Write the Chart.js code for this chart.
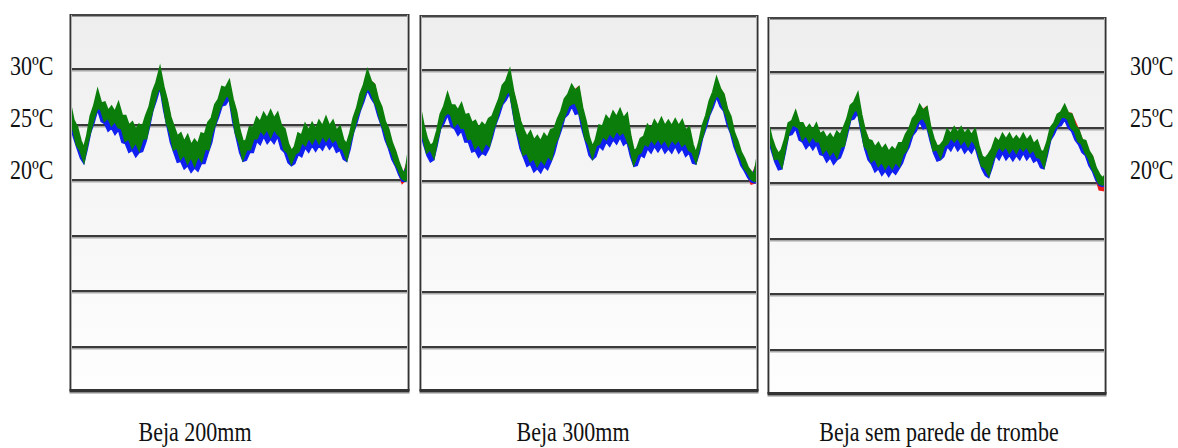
<!DOCTYPE html>
<html>
<head>
<meta charset="utf-8">
<title>Beja - temperaturas</title>
<script src="https://cdn.jsdelivr.net/npm/chart.js@4.4.1/dist/chart.umd.min.js"></script>
<style>
  html, body { margin: 0; padding: 0; background: #fff; }
  #wrap { position: relative; width: 1178px; height: 448px; overflow: hidden; }
  .panel { position: absolute; }
  .lbl {
    position: absolute;
    font-family: "Liberation Serif", "Times New Roman", serif;
    font-size: 22px;
    color: #111;
    white-space: nowrap;
    line-height: 22px;
    transform: scaleY(1.2);
  }
</style>
</head>
<body>
<div id="wrap">
  <div class="panel" id="p1"><canvas id="c1"></canvas></div>
  <div class="panel" id="p2"><canvas id="c2"></canvas></div>
  <div class="panel" id="p3"><canvas id="c3"></canvas></div>
</div>
<script>
// axis
const yMin = 1.1;
const yMax = 34.9;
const gridValues = [30, 25, 20, 15, 10, 5];
const tempLabels = ['30ºC', '25ºC', '20ºC'];
const panelTitles = ['Beja 200mm', 'Beja 300mm', 'Beja sem parede de trombe'];

// the series are very noisy, so each one is kept as an upper and a lower envelope (ºC),
// sampled evenly over the period; the visible edges (green, lower blue) are sampled finer
// Beja 200mm
const p1GreenHi = [26.9,25.4,24.8,23.6,22.8,24.0,25.8,26.7,28.0,26.9, 27.0,26.2,26.6,26.1,26.9,25.8,25.8,24.9,25.2,24.5,
  25.0,24.8,25.8,26.6,28.0,28.8,30.0,28.4,27.2,25.7, 24.8,23.9,24.2,23.4,24.0,23.1,23.6,23.2,24.2,24.1,
  25.2,25.6,26.8,27.3,28.4,28.3,28.9,27.3,26.2,24.5, 23.4,23.6,24.8,24.7,25.6,25.2,26.0,25.5,26.2,25.5,
  26.0,24.9,24.6,23.3,22.6,23.0,24.2,24.0,25.0,24.4, 25.1,24.5,25.3,24.8,25.6,24.8,25.3,24.4,24.8,23.6,
  23.2,24.2,25.6,26.5,27.8,28.6,29.8,28.9,28.6,27.3, 26.6,25.3,24.6,23.4,22.6,21.6,20.8,20.6,22.8];
const p1GreenLo = [25.3,24.6,23.2,22.7,21.8,23.4,24.6,25.8,26.6,26.4, 25.4,25.7,25.0,25.4,24.8,24.7,23.6,23.8,23.0,23.5,
  22.8,23.8,23.8,25.4,26.6,27.8,28.6,27.1,25.2,24.3, 22.8,23.0,22.0,22.4,21.6,22.2,21.4,22.3,21.8,22.9,
  22.8,24.3,25.2,26.3,27.0,27.6,27.6,26.1,24.2,23.4, 22.0,22.8,22.8,23.8,23.8,24.6,24.2,24.7,24.0,24.7,
  24.2,23.9,22.8,22.5,21.6,22.4,22.6,23.5,23.2,23.9, 23.4,24.0,23.4,24.1,23.6,24.1,23.5,23.8,23.0,22.8,
  22.0,23.5,24.6,25.8,26.6,27.7,28.4,28.0,27.2,26.4, 25.2,24.4,23.2,22.6,21.6,21.0,20.2,20.0,20.4];
const p1BlueHi = [26.1,24.0,22.1,25.0,27.3,26.2,25.8,26.1,25.0,24.4, 24.2,25.0,27.3,29.4,26.4,24.0,23.4,23.2,22.8,23.4,
  24.4,26.0,27.7,28.2,25.4,22.7,24.0,24.8,25.2,25.4, 25.2,23.8,21.9,23.4,24.2,24.3,24.5,24.8,24.5,24.0,
  22.5,24.8,27.1,29.2,27.9,25.8,23.8,21.8,20.2,22.0];
const p1BlueLo = [25.0,23.85,22.9,22.0,21.5,22.8,24.3,25.2,26.3,25.3, 25.1,24.4,24.7,24.1,24.5,23.4,23.3,22.5,22.7,22.1,
  22.5,22.6,23.5,24.8,26.3,27.2,28.3,26.4,24.9,23.4, 22.5,21.6,21.7,21.0,21.3,20.7,21.1,20.8,21.5,21.5,
  22.5,23.4,24.9,25.7,26.7,26.8,27.3,25.3,23.9,22.5, 21.7,21.8,22.5,22.5,23.5,23.2,23.9,23.3,23.7,23.3,
  23.9,22.8,22.5,21.6,21.3,21.5,22.3,22.1,22.9,22.5, 23.1,22.6,23.1,22.7,23.3,22.8,23.2,22.5,22.7,21.9,
  21.7,22.8,24.3,25.2,26.3,27.1,28.1,27.4,26.9,25.8, 24.9,23.7,22.9,21.9,21.3,20.5,19.9,19.9,20.1];
const p1RedHi = [26.4,24.3,22.3,25.2,27.4,26.4,26.0,26.3,25.2,24.6, 24.4,25.2,27.4,29.4,27.3,24.2,23.6,23.4,23.0,23.6,
  24.6,26.2,27.8,28.3,26.3,22.8,24.2,25.0,25.4,25.6, 25.4,24.0,22.0,23.6,24.4,24.5,24.7,25.0,24.7,24.2,
  22.6,25.0,27.2,29.2,28.7,26.0,24.0,22.7,20.2,22.2];
const p1RedLo = [25.4,23.3,21.9,24.7,26.7,25.5,25.1,24.9,23.7,23.1, 22.9,23.9,26.7,28.7,25.3,22.9,22.1,21.7,21.5,21.9,
  22.9,25.3,27.1,27.7,24.3,22.1,22.9,23.9,24.3,24.1, 24.3,22.9,21.7,22.7,23.3,23.5,23.5,23.7,23.6,23.1,
  22.1,24.7,26.7,28.5,27.3,25.3,23.3,21.7,19.7,20.3];

// Beja 300mm
const p2GreenHi = [26.6,25.0,23.8,23.1,23.4,24.5,26.0,26.7,27.8,26.8, 26.8,26.3,26.9,25.9,26.0,25.2,25.4,24.7,25.2,24.9,
  25.6,25.8,26.6,27.4,28.6,29.0,29.9,28.1,26.8,25.4, 24.6,23.9,24.4,23.6,24.0,23.5,24.2,23.8,24.6,24.7,
  25.6,26.3,27.4,27.8,28.6,28.1,28.4,26.6,25.4,23.9, 23.0,23.7,25.0,24.9,25.8,25.4,26.2,25.7,26.4,25.6,
  26.0,24.0,22.6,22.9,23.8,24.0,25.0,24.6,25.4,24.9, 25.6,24.9,25.4,24.9,25.5,24.9,25.4,24.5,24.8,23.3,
  22.4,23.5,25.0,25.9,27.2,28.0,29.2,28.3,27.8,26.5, 25.8,24.4,23.6,22.6,22.0,21.2,20.8,20.5,22.4];
const p2GreenLo = [24.8,23.9,22.6,22.9,22.2,23.8,25.0,25.9,26.2,26.0, 25.0,25.4,24.8,24.8,23.8,23.9,23.0,23.4,22.8,23.5,
  23.2,24.5,25.4,26.5,27.2,27.9,28.2,26.6,24.6,23.7, 22.4,22.6,21.8,22.1,21.4,22.0,21.6,22.3,22.0,23.3,
  24.0,25.2,26.0,26.8,27.0,27.1,26.4,25.4,23.8,23.3, 22.2,23.2,23.4,24.1,23.8,24.4,24.0,24.6,24.2,24.5,
  23.8,23.0,21.6,22.4,22.6,23.4,23.2,23.8,23.4,23.9, 23.4,23.8,23.2,23.8,23.4,23.8,23.2,23.5,22.8,22.6,
  21.8,23.2,24.2,25.4,26.2,27.2,27.8,27.5,26.6,25.8, 24.6,23.8,22.6,22.1,21.2,20.8,20.2,20.0,20.2];
const p2BlueHi = [25.8,23.0,22.6,25.2,27.1,26.0,26.1,25.2,24.6,24.4, 24.8,25.8,27.9,29.3,26.0,23.8,23.6,23.2,23.4,23.8,
  24.8,26.6,27.9,27.6,24.6,22.4,24.2,25.0,25.4,25.6, 25.2,21.9,23.0,24.2,24.6,24.8,24.6,24.7,24.6,24.0,
  21.8,24.2,26.5,28.6,27.0,25.0,22.8,21.3,20.2,21.8];
const p2BlueLo = [24.5,23.3,22.3,21.7,21.9,23.2,24.7,25.2,25.9,24.9, 24.7,24.1,24.5,23.5,23.5,22.6,22.7,22.1,22.5,22.3,
  22.9,23.9,25.1,25.9,26.9,27.3,27.9,26.0,24.3,22.9, 22.1,21.3,21.5,20.8,21.1,20.7,21.3,21.0,21.7,22.5,
  23.7,24.6,25.7,26.0,26.7,26.0,26.1,24.6,23.5,22.3, 21.9,22.2,23.1,22.8,23.5,23.1,23.7,23.3,23.9,23.2,
  23.5,22.2,21.3,21.4,22.3,22.1,22.9,22.5,23.1,22.6, 23.1,22.5,22.9,22.5,23.1,22.5,22.9,22.2,22.5,21.6,
  21.5,22.5,23.9,24.8,25.9,26.6,27.5,26.7,26.3,25.1, 24.3,23.1,22.3,21.4,20.9,20.3,19.9,19.8,19.9];
const p2RedHi = [26.0,23.2,22.8,25.4,27.2,26.2,26.3,25.4,24.8,24.6, 25.0,26.0,28.0,29.4,26.9,24.0,23.8,23.4,23.6,24.0,
  25.0,26.8,28.0,28.5,24.8,22.4,24.4,25.2,25.6,25.8, 25.4,22.0,23.2,24.4,24.8,25.0,24.8,24.9,24.8,24.2,
  21.8,24.4,26.6,28.7,27.9,25.2,23.0,21.5,20.3,21.9];
const p2RedLo = [24.9,22.7,22.3,25.1,26.3,25.1,24.9,23.9,23.1,22.9, 23.3,25.5,27.3,28.3,24.7,22.5,21.9,21.5,21.7,22.1,
  24.1,26.1,27.1,26.5,23.9,22.3,23.5,23.9,24.1,24.3, 23.9,21.7,22.7,23.3,23.5,23.5,23.3,23.5,23.3,22.9,
  21.9,24.3,26.3,27.9,26.7,24.7,22.7,21.3,19.7,19.9];

// Beja sem parede de trombe
const p3GreenHi = [25.4,24.1,23.2,22.6,23.0,24.0,25.4,25.6,26.4,25.4, 25.4,24.8,25.2,24.7,25.3,24.4,24.6,24.0,24.4,23.9,
  24.6,24.3,25.0,25.8,27.0,27.3,28.0,26.2,24.8,23.9, 23.8,23.2,23.6,23.0,23.4,22.8,23.2,22.9,23.6,23.6,
  24.4,24.9,25.8,26.2,27.0,26.5,26.8,25.1,24.0,23.3, 23.4,23.8,24.8,24.4,25.0,24.5,25.0,24.4,24.8,24.3,
  24.8,23.4,22.4,22.2,22.6,23.1,24.0,23.7,24.4,23.9, 24.4,23.8,24.2,23.8,24.4,23.8,24.2,23.5,23.8,22.9,
  22.8,23.7,25.0,25.4,26.2,26.4,27.0,26.3,26.2,25.2, 24.8,23.9,23.8,22.9,22.4,21.4,20.8,20.4,20.8];
const p3GreenLo = [24.4,23.5,22.2,22.3,21.6,23.3,24.6,25.3,25.2,25.0, 24.0,24.4,23.8,24.3,23.8,23.8,22.8,23.2,22.6,23.0,
  22.4,23.3,23.4,24.9,26.0,26.6,26.6,25.2,23.4,23.0, 22.0,22.3,21.6,22.0,21.4,21.9,21.4,22.0,21.6,22.6,
  23.0,24.0,24.6,25.4,25.8,25.9,25.4,24.4,23.0,23.1, 22.4,23.4,23.6,24.2,23.8,24.2,23.6,24.0,23.4,24.0,
  23.6,22.8,21.6,21.4,20.8,22.0,22.8,23.4,23.0,23.4, 22.8,23.3,22.8,23.4,23.0,23.4,22.8,23.1,22.4,22.3,
  21.6,23.1,24.2,25.0,25.4,26.0,26.0,25.8,25.0,24.7, 23.8,23.6,22.8,22.3,21.4,20.8,20.0,19.9,20.2];
const p3BlueHi = [24.6,22.4,22.2,24.6,25.6,24.6,24.4,24.5,23.8,23.6, 23.8,24.2,26.3,27.3,24.0,23.0,22.8,22.6,22.4,22.8,
  23.6,25.0,26.3,26.0,23.2,22.6,24.0,24.2,24.2,24.0, 24.0,21.7,21.9,23.2,23.6,23.6,23.4,23.6,23.4,23.0,
  22.0,24.2,25.4,26.3,25.4,24.0,23.0,21.7,20.2,20.2];
const p3BlueLo = [24.1,22.9,21.9,21.2,21.3,22.7,24.3,24.4,24.9,23.9, 23.7,23.1,23.5,23.0,23.5,22.6,22.5,21.9,22.3,21.7,
  22.1,22.3,23.1,24.3,25.7,25.8,26.3,24.6,23.1,22.1, 21.7,21.0,21.3,20.7,21.1,20.6,21.1,20.8,21.3,21.8,
  22.7,23.3,24.3,24.7,25.5,24.9,25.1,23.8,22.7,22.0, 22.1,22.4,23.3,22.9,23.5,22.9,23.3,22.7,23.1,22.7,
  23.3,22.2,21.3,20.7,20.5,21.4,22.5,22.1,22.7,22.1, 22.5,22.0,22.5,22.1,22.7,22.1,22.5,21.9,22.1,21.4,
  21.3,22.5,23.9,24.4,25.1,25.2,25.7,25.0,24.7,23.9, 23.5,22.8,22.5,21.6,21.1,20.3,19.8,19.7,19.9];
const p3RedHi = [24.8,22.6,22.4,24.8,25.8,24.8,24.6,24.7,24.0,23.8, 24.0,24.4,26.4,27.4,24.9,23.2,23.0,22.8,22.6,23.0,
  23.8,25.2,26.4,26.9,23.4,22.8,24.2,24.4,24.4,24.2, 24.2,21.8,22.0,23.4,23.8,23.8,23.6,23.8,23.6,23.2,
  22.2,24.4,25.6,26.4,26.3,24.9,23.2,22.5,20.2,20.2];
const p3RedLo = [24.5,22.3,21.7,24.7,25.3,24.1,23.9,23.9,22.9,22.7, 22.5,23.5,26.1,26.7,23.5,22.1,21.7,21.5,21.5,21.7,
  23.1,24.7,25.9,25.5,23.1,22.5,23.7,23.9,23.7,23.5, 23.7,21.7,20.9,22.9,23.1,22.9,22.9,23.1,22.9,22.5,
  21.7,24.3,25.5,26.1,25.1,23.9,22.9,21.5,19.4,19.3];

// frame: gradient background, double gridlines and the dark borders
const panelFrame = {
  id: 'panelFrame',
  beforeDatasetsDraw(chart) {
    const { ctx, chartArea: a, scales: { y } } = chart;
    const w = a.right - a.left;
    ctx.save();
    const g = ctx.createLinearGradient(0, a.top, 0, a.bottom);
    g.addColorStop(0, '#eeeeee');
    g.addColorStop(1, '#fefefe');
    ctx.fillStyle = g;
    ctx.fillRect(a.left, a.top, w, a.bottom - a.top);
    gridValues.forEach((v) => {
      const py = Math.round(y.getPixelForValue(v));
      ctx.fillStyle = '#a8a8a8';
      ctx.fillRect(a.left, py + 1, w, 1.5);
      ctx.fillStyle = '#3a3a3a';
      ctx.fillRect(a.left, py - 1, w, 2);
    });
    ctx.restore();
  },
  afterDatasetsDraw(chart) {
    const { ctx, chartArea: a } = chart;
    const w = a.right - a.left;
    const h = a.bottom - a.top;
    ctx.save();
    // top
    ctx.fillStyle = '#9a9a9a';
    ctx.fillRect(a.left, a.top + 1, w, 1);
    ctx.fillStyle = '#444';
    ctx.fillRect(a.left, a.top - 1, w, 2);
    // sides
    ctx.fillStyle = '#b0b0b0';
    ctx.fillRect(a.left + 1, a.top, 1, h);
    ctx.fillRect(a.right - 2, a.top, 1, h);
    ctx.fillStyle = '#333';
    ctx.fillRect(a.left - 0.5, a.top - 1, 1.5, h + 2);
    ctx.fillRect(a.right - 1, a.top - 1, 1.5, h + 2);
    // bottom
    ctx.fillStyle = '#333';
    ctx.fillRect(a.left - 0.5, a.bottom - 1, w + 1, 3);
    ctx.fillStyle = '#8c8c8c';
    ctx.fillRect(a.left - 0.5, a.bottom + 2, w + 1, 1.5);
    ctx.restore();
  }
};

const GREEN = '#0b7d0b';
const BLUE = '#1020f0';
const RED = '#f01818';

// position along the period: 0 = first reading, 1 = last reading
const spread = (arr) => arr.map((v, i) => ({ x: i / (arr.length - 1), y: v }));

function makePanel(id, box, series) {
  const div = document.getElementById('p' + id);
  div.style.left = box.left + 'px';
  div.style.top = box.top + 'px';
  div.style.width = box.width + 'px';
  div.style.height = box.height + 'px';
  const edge = (data, color, width, fill) => ({
    data: spread(data),
    borderColor: color,
    backgroundColor: color,
    borderWidth: width,
    pointRadius: 0,
    tension: 0,
    fill: fill
  });
  const datasets = [];
  // first dataset is painted last, so green stays on top, red at the bottom
  series.forEach(([hi, lo, color, width]) => {
    datasets.push(edge(hi, color, width, false));
    datasets.push(edge(lo, color, width, '-1'));
  });
  return new Chart(document.getElementById('c' + id), {
    type: 'line',
    data: { datasets: datasets },
    options: {
      responsive: true,
      maintainAspectRatio: false,
      animation: false,
      events: [],
      layout: { padding: { left: 1, right: 2, top: 1, bottom: 4 } },
      scales: {
        x: { type: 'linear', display: false, min: 0, max: 1 },
        y: { display: false, min: yMin, max: yMax }
      },
      plugins: { legend: { display: false }, tooltip: { enabled: false } }
    },
    plugins: [panelFrame]
  });
}

makePanel(1, { left: 69, top: 14, width: 342, height: 380 },
  [[p1GreenHi, p1GreenLo, GREEN, 2.6], [p1BlueHi, p1BlueLo, BLUE, 1.3], [p1RedHi, p1RedLo, RED, 1.3]]);
makePanel(2, { left: 419, top: 15, width: 341, height: 379 },
  [[p2GreenHi, p2GreenLo, GREEN, 2.6], [p2BlueHi, p2BlueLo, BLUE, 1.3], [p2RedHi, p2RedLo, RED, 1.3]]);
makePanel(3, { left: 767, top: 17, width: 341, height: 380 },
  [[p3GreenHi, p3GreenLo, GREEN, 2.6], [p3BlueHi, p3BlueLo, BLUE, 1.3], [p3RedHi, p3RedLo, RED, 1.3]]);

// text: temperature labels on both sides, titles under the panels
const wrap = document.getElementById('wrap');
function addText(txt, x, cy, align) {
  const d = document.createElement('div');
  d.className = 'lbl';
  d.textContent = txt;
  d.style.top = (cy - 11) + 'px';
  if (align === 'center') {
    d.style.left = (x - 200) + 'px';
    d.style.width = '400px';
    d.style.textAlign = 'center';
  } else {
    d.style.left = x + 'px';
  }
  wrap.appendChild(d);
}
const labelRows = [67, 119, 171];
tempLabels.forEach((t, i) => {
  addText(t, 10, labelRows[i], 'left');
  addText(t, 1130, labelRows[i], 'left');
});
const titleCenters = [195, 573, 939];
panelTitles.forEach((t, i) => addText(t, titleCenters[i], 433, 'center'));
</script>
</body>
</html>
